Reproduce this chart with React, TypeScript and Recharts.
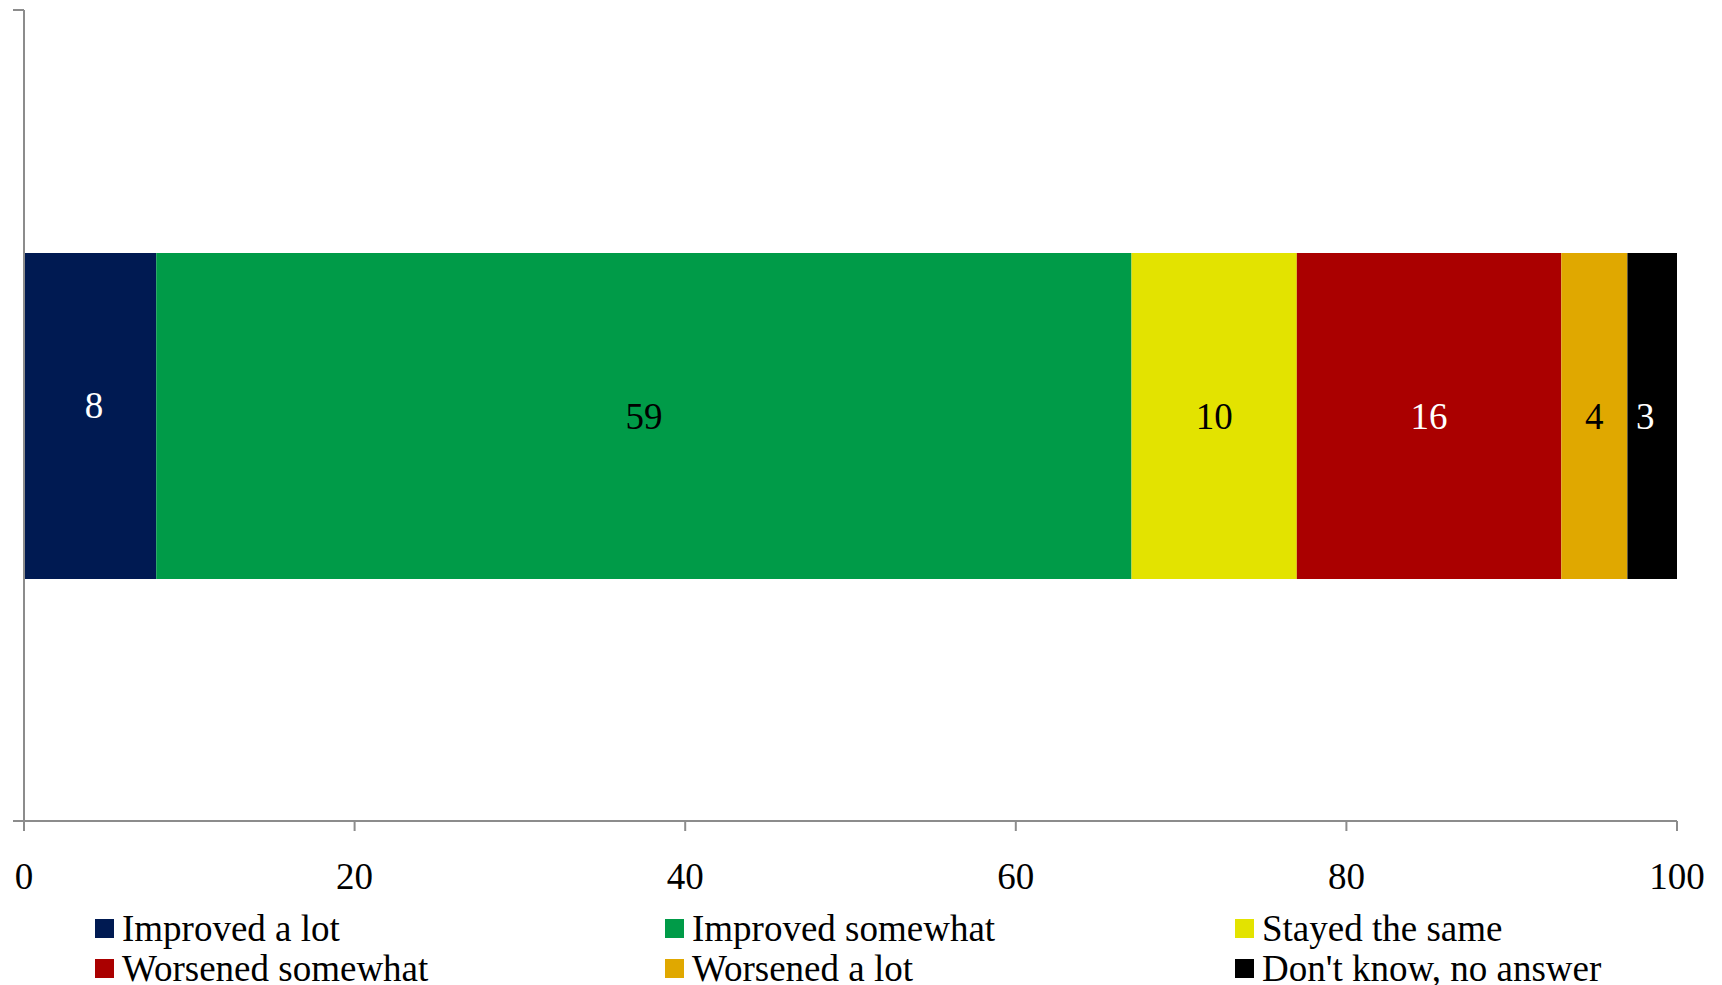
import { BarChart, Bar, XAxis, YAxis, Legend, LabelList } from "recharts";

const categories = [""];
const seriesNames = [
  "Improved a lot",
  "Improved somewhat",
  "Stayed the same",
  "Worsened somewhat",
  "Worsened a lot",
  "Don't know, no answer",
];
const seriesValues = [8, 59, 10, 16, 4, 3];
const xTicks = [0, 20, 40, 60, 80, 100];

const colors = ["#001A52", "#009B48", "#E3E300", "#AA0000", "#E0A800", "#000000"];
const labelColors = ["#ffffff", "#000000", "#000000", "#ffffff", "#000000", "#ffffff"];
const labelDx = [4, 0, 0, 0, 0, -7];
const labelDy = [-11, 0, 0, 0, 0, 0];

const FONT = "'Liberation Serif', 'Times New Roman', serif";
const AXIS = "#8c8c8c";

const data = categories.map((name) => {
  const row: any = { name };
  seriesNames.forEach((s, i) => {
    row["s" + i] = seriesValues[i];
  });
  return row;
});

// category axis: tick marks sit on the band edges, as in Excel
const EdgeTick = (props: any) => {
  const { x, y, payload } = props;
  const half = payload && typeof payload.offset === "number" ? payload.offset : 0;
  if (!half) return <g />;
  return (
    <g>
      <line x1={x - 11} x2={x} y1={y - half} y2={y - half} stroke={AXIS} strokeWidth={2} />
      <line x1={x - 11} x2={x} y1={y + half} y2={y + half} stroke={AXIS} strokeWidth={2} />
    </g>
  );
};

const LegendContent = () => (
  <div
    style={{
      display: "grid",
      gridTemplateColumns: "570px 570px 570px",
      fontFamily: FONT,
      fontSize: 37,
      color: "#000",
    }}
  >
    {seriesNames.map((s, i) => (
      <div
        key={s}
        style={{ display: "flex", alignItems: "center", height: 40, whiteSpace: "nowrap" }}
      >
        <span
          style={{
            display: "inline-block",
            width: 19,
            height: 19,
            background: colors[i],
            marginRight: 8,
          }}
        />
        <span>{s}</span>
      </div>
    ))}
  </div>
);

export default function App() {
  return (
    <div style={{ position: "absolute", left: 0, top: 0, background: "#fff" }}>
      <BarChart
        width={1722}
        height={985}
        data={data}
        layout="vertical"
        margin={{ top: 10, right: 45, left: 23, bottom: 104 }}
      >
        <XAxis
          type="number"
          domain={[0, 100]}
          ticks={xTicks}
          interval={0}
          height={60}
          stroke={AXIS}
          strokeWidth={2}
          tickSize={10}
          tickMargin={32}
          tick={{ fill: "#000", fontFamily: FONT, fontSize: 37 }}
        />
        <YAxis
          type="category"
          dataKey="name"
          width={1}
          stroke={AXIS}
          strokeWidth={2}
          tickLine={false}
          tickSize={0}
          tickMargin={0}
          tick={<EdgeTick />}
        />
        <Legend
          layout="horizontal"
          verticalAlign="middle"
          align="center"
          wrapperStyle={{ top: 908, left: 95, width: 1710 }}
          content={<LegendContent />}
        />
        {seriesNames.map((s, i) => (
          <Bar
            key={s}
            dataKey={"s" + i}
            name={s}
            stackId="a"
            fill={colors[i]}
            barSize={326}
            isAnimationActive={false}
          >
            <LabelList
              dataKey={"s" + i}
              position="center"
              fill={labelColors[i]}
              fontFamily={FONT}
              fontSize={37}
              dx={labelDx[i]}
              dy={labelDy[i]}
            />
          </Bar>
        ))}
      </BarChart>
    </div>
  );
}
